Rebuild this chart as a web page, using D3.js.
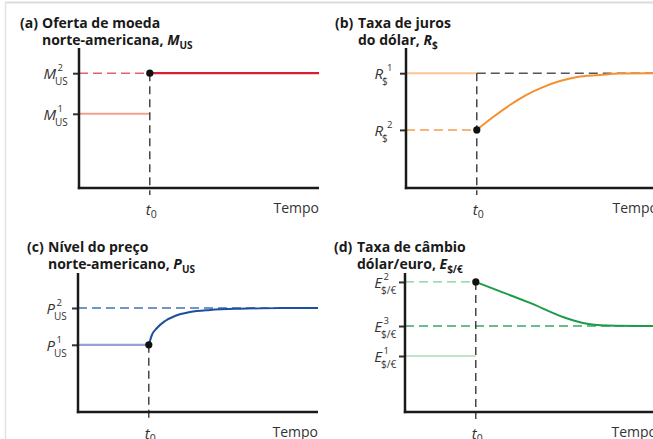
<!DOCTYPE html>
<html><head><meta charset="utf-8">
<script src="https://cdn.jsdelivr.net/npm/d3@7"></script>
<style>
body{margin:0;background:#fff;}
svg{display:block;font-family:"Open Sans",sans-serif;}
</style></head>
<body><svg id="c" width="653" height="439"></svg>
<script>
// ---- data (abstract units: time 0..10, level 0..10) ----
const t0 = 2.95;
const timeEnd = 10;
const panelTitles = [
  ["(a)", "Oferta de moeda", "norte-americana, ", "M", "US"],
  ["(b)", "Taxa de juros", "do dólar, ", "R", "$"],
  ["(c)", "Nível do preço", "norte-americano, ", "P", "US"],
  ["(d)", "Taxa de câmbio", "dólar/euro, ", "E", "$/€"]
];
const moneyLevels = [5.3, 8.2];          // M1, M2
const rateLevels = [8.2, 4.15];          // R1, R2
const priceLevels = [4.8, 7.43];         // P1, P2
const exchangeLevels = [4.0, 9.29, 6.14]; // E1, E2, E3
const rateCurveT = [2.95, 3.63, 4.33, 5.0, 5.71, 6.42, 7.13, 8.08, 8.9, 10.4];
const rateCurveV = [4.15, 5.07, 5.93, 6.64, 7.21, 7.64, 7.93, 8.07, 8.18, 8.2];
const priceCurveT = [2.95, 3.08, 3.29, 3.63, 4.04, 4.67, 5.5, 6.75, 8.4, 10];
const priceCurveV = [4.8, 5.5, 6.0, 6.5, 6.86, 7.14, 7.29, 7.38, 7.42, 7.43];
const exchCurveT = [2.95, 3.83, 5.21, 6.58, 7.42, 8.42, 10.4];
const exchCurveV = [9.29, 8.71, 7.79, 6.79, 6.36, 6.18, 6.14];
const xLabels = ["t", "0", "Tempo"];

const svg = d3.select("#c");
// page frame
svg.append("rect").attr("x",0).attr("y",0).attr("width",653).attr("height",439).attr("fill","#fff");
svg.append("line").attr("x1",5).attr("x2",653).attr("y1",2.5).attr("y2",2.5).attr("stroke","#dcdcdc").attr("stroke-width",2);
svg.append("line").attr("x1",5.5).attr("x2",5.5).attr("y1",2).attr("y2",439).attr("stroke","#e2e2e2").attr("stroke-width",1.5);

const panels = [
  {ox:79, top:48, bottom:188, axisEnd:10, title:[20,28,42]},
  {ox:406, top:48, bottom:188, axisEnd:10.5, title:[335,28,358]},
  {ox:78, top:273, bottom:412, axisEnd:10, title:[27,252,48]},
  {ox:405, top:273, bottom:412, axisEnd:10.5, title:[334,252,357]}
];

function setup(i){
  const p = panels[i];
  const g = svg.append("g");
  const x = d3.scaleLinear().domain([0, timeEnd]).range([p.ox, p.ox + 240]);
  const y = d3.scaleLinear().domain([0, 10]).range([p.bottom, p.bottom - 140]);
  // title
  const tt = panelTitles[i];
  const T = g.append("text").attr("font-weight","bold").attr("font-size",14).attr("fill","#1a1a1a");
  T.append("tspan").attr("x",p.title[0]).attr("y",p.title[1]).text(tt[0]);
  T.append("tspan").attr("x",p.title[2]).attr("y",p.title[1]).text(tt[1]);
  T.append("tspan").attr("x",p.title[2]).attr("y",p.title[1]+17).text(tt[2]);
  T.append("tspan").attr("font-style","italic").text(tt[3]);
  T.append("tspan").attr("font-size",10).attr("dy",4).text(tt[4]);
  return {g,x,y,p};
}
function hline(ctx, x0, x1, v, color, w, dash){
  ctx.g.append("line").attr("x1",ctx.x(x0)).attr("x2",ctx.x(x1))
    .attr("y1",ctx.y(v)).attr("y2",ctx.y(v)).attr("stroke",color)
    .attr("stroke-width",w).attr("stroke-dasharray",dash||null);
}
function vline(ctx, vTop){
  ctx.g.append("line").attr("x1",ctx.x(t0)).attr("x2",ctx.x(t0))
    .attr("y1",ctx.y(vTop)).attr("y2",ctx.p.bottom+7).attr("stroke","#2a2a2a")
    .attr("stroke-width",1.3).attr("stroke-dasharray","8,5");
}
function curve(ctx, ts, vs, color){
  const line = d3.line().x(d=>ctx.x(d[0])).y(d=>ctx.y(d[1])).curve(d3.curveMonotoneX);
  ctx.g.append("path").attr("d", line(ts.map((t,k)=>[t,vs[k]])))
    .attr("fill","none").attr("stroke",color).attr("stroke-width",2);
}
function dot(ctx, v){
  ctx.g.append("circle").attr("cx",ctx.x(t0)).attr("cy",ctx.y(v)).attr("r",3.6).attr("fill","#111");
}
function axes(ctx, levels, letter, sub, sups, supRight){
  const {g,x,y,p} = ctx;
  const ax = d3.axisLeft(y).tickValues(levels).tickSize(6).tickFormat("");
  const ga = g.append("g").attr("transform",`translate(${p.ox},0)`).call(ax);
  ga.select(".domain").remove();
  ga.selectAll(".tick line").attr("stroke","#333").attr("stroke-width",2);
  g.append("line").attr("x1",p.ox).attr("x2",p.ox).attr("y1",p.top).attr("y2",p.bottom+1.2)
    .attr("stroke","#1a1a1a").attr("stroke-width",2.5);
  g.append("line").attr("x1",p.ox-1.2).attr("x2",x(p.axisEnd)).attr("y1",p.bottom).attr("y2",p.bottom)
    .attr("stroke","#1a1a1a").attr("stroke-width",2.5);
  levels.forEach((v,k)=>{
    const yy = y(v);
    const ex = p.ox - 23;
    g.append("text").attr("x",ex).attr("y",yy+6).attr("text-anchor","end")
      .attr("font-style","italic").attr("font-size",15).attr("fill","#333").text(letter);
    g.append("text").attr("x",ex-1).attr("y",yy+12).attr("font-size",10).attr("fill","#333").text(sub);
    g.append("text").attr("x",ex+(supRight?4:1.5)).attr("y",yy-2).attr("font-size",9.5).attr("fill","#333").text(sups[k]);
  });
  g.append("text").attr("x",x(t0)-4).attr("y",p.bottom+27).attr("font-style","italic")
    .attr("font-size",15).attr("fill","#333").text(xLabels[0])
    .append("tspan").attr("font-style","normal").attr("font-size",10.5).attr("dy",3).text(xLabels[1]);
  g.append("text").attr("x",x(p.axisEnd)).attr("y",p.bottom+25).attr("text-anchor","end")
    .attr("font-size",14).attr("fill","#333").text(xLabels[2]);
}

// (a)
let c = setup(0);
hline(c, 0, t0, moneyLevels[0], "#f4a08c", 2);
hline(c, 0, t0, moneyLevels[1], "#e4606e", 1.5, "9,5");
vline(c, moneyLevels[1]);
hline(c, t0, timeEnd, moneyLevels[1], "#d81e32", 2.2);
axes(c, moneyLevels, "M", "US", ["1","2"], false);
dot(c, moneyLevels[1]);

// (b)
c = setup(1);
hline(c, 0, t0, rateLevels[0], "#fbc794", 2);
hline(c, t0, 10.5, rateLevels[0], "#555", 1.5, "9,5");
hline(c, 0, t0, rateLevels[1], "#f8b57a", 2, "9,5");
vline(c, rateLevels[0]);
curve(c, rateCurveT, rateCurveV, "#f4902f");
axes(c, rateLevels, "R", "$", ["1","2"], true);
dot(c, rateLevels[1]);

// (c)
c = setup(2);
hline(c, 0, timeEnd, priceLevels[1], "#4673b3", 1.5, "9,5");
hline(c, 0, t0, priceLevels[0], "#95a3d3", 2.2);
vline(c, priceLevels[0]);
curve(c, priceCurveT, priceCurveV, "#1d4f9f");
axes(c, priceLevels, "P", "US", ["1","2"], false);
dot(c, priceLevels[0]);

// (d)
c = setup(3);
hline(c, 0, t0, exchangeLevels[0], "#c4e5cb", 2.2);
hline(c, 0, t0, exchangeLevels[1], "#7ccd98", 1.2, "9,5");
hline(c, 0, 10.5, exchangeLevels[2], "#3aa866", 1.5, "9,5");
vline(c, exchangeLevels[1]);
curve(c, exchCurveT, exchCurveV, "#1f9a4c");
axes(c, exchangeLevels, "E", "$/€", ["1","2","3"], false);
dot(c, exchangeLevels[1]);
</script></body></html>
